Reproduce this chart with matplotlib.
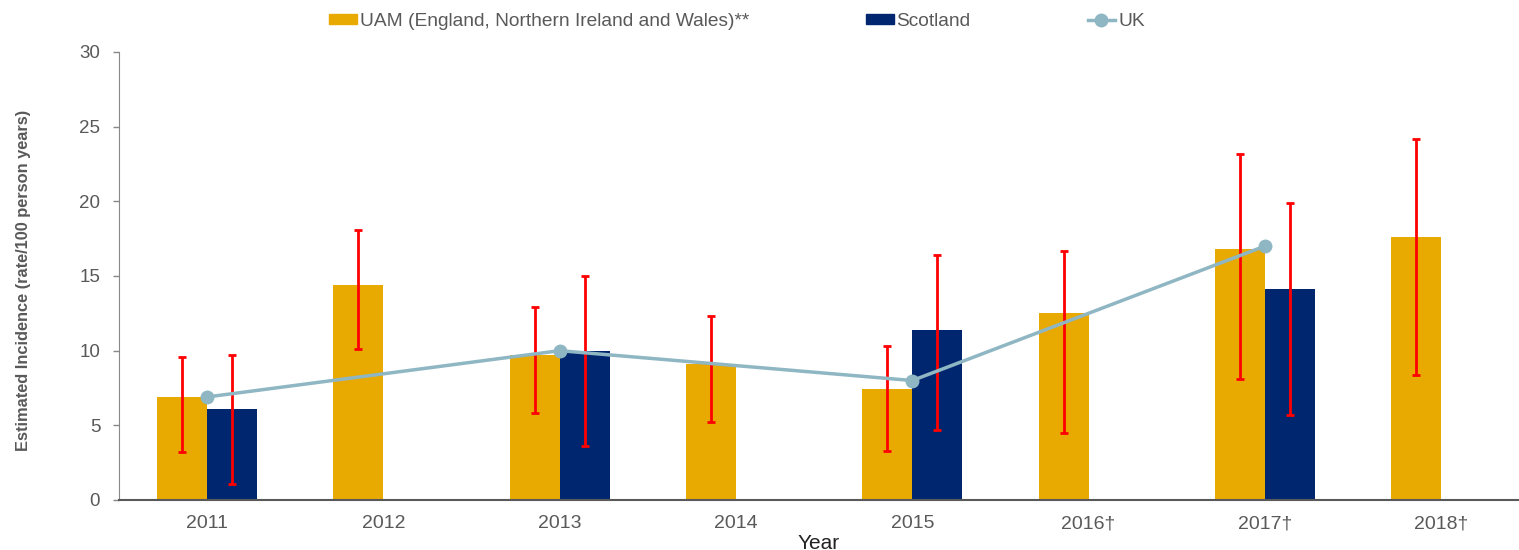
import numpy as np
import matplotlib
matplotlib.use("Agg")
import matplotlib.pyplot as plt
from matplotlib.lines import Line2D
from matplotlib.patches import Patch

plt.rcParams["font.family"] = ["Liberation Sans", "DejaVu Sans"]

years = ["2011", "2012", "2013", "2014", "2015", "2016\u2020", "2017\u2020", "2018\u2020"]

# UAM (England, Northern Ireland and Wales)
uam = [6.9, 14.4, 9.7, 9.1, 7.4, 12.5, 16.8, 17.6]
uam_low = [3.2, 10.1, 5.8, 5.2, 3.3, 4.5, 8.1, 8.4]
uam_high = [9.6, 18.1, 12.9, 12.3, 10.3, 16.7, 23.2, 24.2]

# Scotland (only some years)
scot_idx = [0, 2, 4, 6]
scot = [6.1, 10.0, 11.4, 14.1]
scot_low = [1.1, 3.6, 4.7, 5.7]
scot_high = [9.7, 15.0, 16.4, 19.9]

# UK
uk_idx = [0, 2, 4, 6]
uk = [6.9, 10.0, 8.0, 17.0]

gold = "#E8A900"
navy = "#00266F"
ukcol = "#8FB6C3"
grey = "#595959"

fig = plt.figure(figsize=(15.19, 5.5), dpi=100)
ax = fig.add_axes([119 / 1519, 50 / 550, 1 - 119 / 1519, 448 / 550])

w = 0.2836
x = np.arange(len(years))
xs = np.array(scot_idx)

ax.bar(x - w / 2, uam, width=w, color=gold, zorder=2)
ax.bar(xs + w / 2, scot, width=w, color=navy, zorder=2)

uam = np.array(uam)
scot = np.array(scot)
ax.errorbar(x - w / 2, uam, yerr=[uam - np.array(uam_low), np.array(uam_high) - uam],
            fmt="none", ecolor="red", elinewidth=2, capsize=2.6, capthick=2, zorder=3)
ax.errorbar(xs + w / 2, scot, yerr=[scot - np.array(scot_low), np.array(scot_high) - scot],
            fmt="none", ecolor="red", elinewidth=2, capsize=2.6, capthick=2, zorder=3)

ax.plot(uk_idx, uk, color=ukcol, lw=2.5, marker="o", markersize=9, zorder=4)

ax.set_xlim(-0.5, 7.442)
ax.set_ylim(0, 30)
ax.set_yticks([0, 5, 10, 15, 20, 25, 30])
ax.set_xticks(x)
ax.set_xticklabels(years)
ax.tick_params(axis="x", length=0, pad=11, labelsize=14, labelcolor=grey)
ax.tick_params(axis="y", length=4, width=1, color="#888888", pad=9.5, labelsize=13.5, labelcolor=grey)

for s in ["top", "right"]:
    ax.spines[s].set_visible(False)
ax.spines["left"].set_color("#888888")
ax.spines["bottom"].set_color(grey)
ax.spines["bottom"].set_linewidth(1.5)

ax.set_ylabel("Estimated Incidence (rate/100 person years)", fontsize=11.8,
              fontweight="bold", color=grey)
ax.yaxis.set_label_coords(-(119 - 31) / 1400, 0.49)
ax.set_xlabel("Year", fontsize=15, color="#222222", labelpad=1)

handles = [Patch(color=gold), Patch(color=navy),
           Line2D([], [], color=ukcol, lw=2.5, marker="o", markersize=9)]
labels = ["UAM (England, Northern Ireland and Wales)**", "Scotland", "UK"]
fig.legend(handles, labels, loc="center left", bbox_to_anchor=(329 / 1519, 1 - 21.5 / 550),
           ncol=3, frameon=False, fontsize=13.8, labelcolor=grey,
           handlelength=1.45, handleheight=0.45, handletextpad=0.15, columnspacing=6.1,
           borderaxespad=0, borderpad=0)

fig.savefig("out.png", dpi=100)
